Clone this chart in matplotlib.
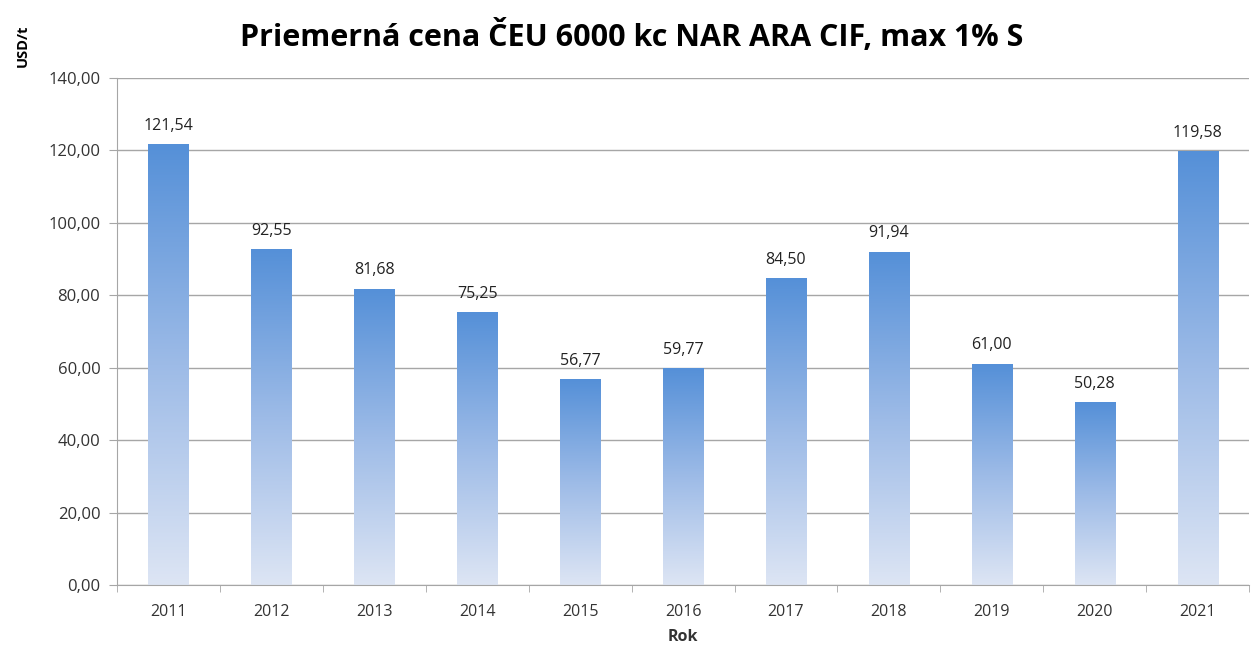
import matplotlib
matplotlib.use("Agg")
import matplotlib.pyplot as plt
import numpy as np
from matplotlib.colors import LinearSegmentedColormap

years = ["2011", "2012", "2013", "2014", "2015", "2016", "2017", "2018", "2019", "2020", "2021"]
prices = [121.54, 92.55, 81.68, 75.25, 56.77, 59.77, 84.50, 91.94, 61.00, 50.28, 119.58]
labels = ["121,54", "92,55", "81,68", "75,25", "56,77", "59,77", "84,50", "91,94", "61,00", "50,28", "119,58"]

plt.rcParams['font.family'] = ['Open Sans', 'DejaVu Sans']

fig = plt.figure(figsize=(12.51, 6.5), dpi=100)
ax = fig.add_axes([0.0935, 0.1, 0.905, 0.78])

cmap = LinearSegmentedColormap.from_list("bar", ["#dde5f4", "#9dbbe7", "#5590d8"])
grad = np.linspace(0, 1, 256).reshape(-1, 1)
width = 0.39
x = np.arange(len(years))

for i, v in enumerate(prices):
    ax.imshow(grad, cmap=cmap, origin="lower", aspect="auto",
              extent=(x[i] - width / 2, x[i] + width / 2, 0, v), zorder=2)
    ax.text(x[i], v + 3, labels[i], ha="center", va="bottom", fontsize=11.5, color="#222222")

ax.set_xlim(-0.5, len(years) - 0.5)
ax.set_ylim(0, 140)
ax.set_yticks(np.arange(0, 141, 20))
ax.set_yticklabels([f"{t},00" for t in range(0, 141, 20)], fontsize=12, color="#333333")
ax.yaxis.grid(True, color="#a6a6a6", linewidth=1, zorder=0)
ax.set_axisbelow(True)

ax.set_xticks(x)
ax.set_xticklabels(years, fontsize=11.5, color="#333333")
ax.set_xticks(np.arange(-0.5, len(years), 1), minor=True)
ax.tick_params(axis="x", which="major", length=0, pad=14)
ax.tick_params(axis="x", which="minor", length=5, color="#a6a6a6")
ax.tick_params(axis="y", length=6, color="#a6a6a6", pad=6)

for s in ["top", "right"]:
    ax.spines[s].set_visible(False)
for s in ["left", "bottom"]:
    ax.spines[s].set_color("#a6a6a6")

ax.set_xlabel("Rok", fontsize=11.5, fontweight="bold", color="#333333", labelpad=6)
fig.text(0.018, 0.93, "USD/t", rotation=90, fontsize=10.5, fontweight="bold", ha="center", va="center")
fig.suptitle("Priemerná cena ČEU 6000 kc NAR ARA CIF, max 1% S", x=0.505, y=0.97,
             fontsize=22, fontweight="bold")

fig.savefig("out.png", dpi=100)
